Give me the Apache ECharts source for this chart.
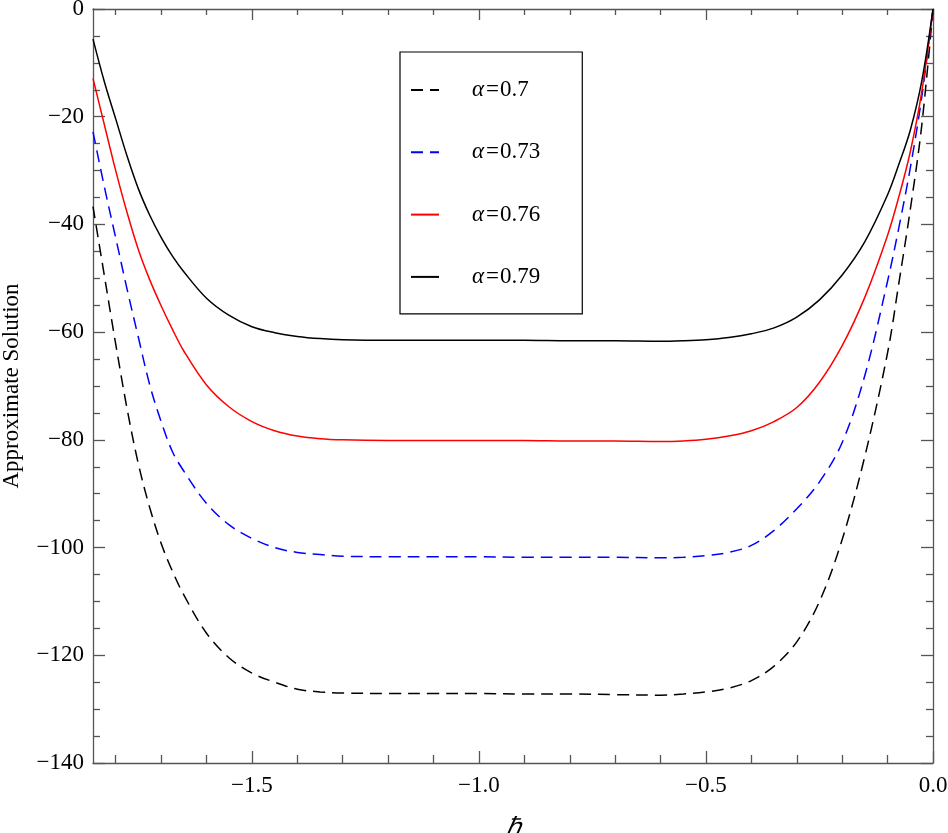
<!DOCTYPE html>
<html><head><meta charset="utf-8">
<script src="https://cdn.jsdelivr.net/npm/echarts@6/dist/echarts.min.js"></script>
<style>html,body{margin:0;padding:0;background:#fff}#c{width:948px;height:833px}</style>
</head><body><div id="c"></div>
<script>
const hbar = [-1.85,-1.825,-1.8,-1.775,-1.75,-1.725,-1.7,-1.675,-1.65,-1.6,-1.55,-1.5,-1.45,-1.4,-1.35,-1.3,-1.2,-1.1,-1.0,-0.9,-0.8,-0.7,-0.6,-0.55,-0.5,-0.45,-0.4,-0.35,-0.3,-0.25,-0.2,-0.15,-0.1,-0.075,-0.05,-0.025,0];
const alpha070 = [-36.7,-49.5,-62.2,-74.2,-84.5,-92.6,-99.2,-104.4,-108.8,-115.9,-120.5,-123.3,-125.0,-126.3,-126.8,-127.0,-127.1,-127.1,-127.1,-127.2,-127.2,-127.3,-127.4,-127.2,-126.8,-126.1,-124.7,-122.0,-117.5,-110.0,-98.5,-83.0,-63.8,-50.8,-37.2,-21.8,0];
const alpha073 = [-22.8,-33.0,-42.5,-52.0,-61.0,-69.8,-76.6,-82.2,-85.8,-91.8,-95.8,-98.3,-100.0,-100.9,-101.3,-101.6,-101.7,-101.7,-101.7,-101.8,-101.8,-101.8,-101.9,-101.8,-101.5,-100.9,-99.6,-96.8,-92.8,-87.8,-80.5,-68.0,-50.5,-40.5,-29.5,-16.5,0];
const alpha076 = [-12.9,-21.5,-30.0,-37.8,-44.7,-50.3,-55.1,-59.5,-63.5,-69.8,-73.9,-76.6,-78.3,-79.3,-79.8,-80.0,-80.1,-80.1,-80.1,-80.1,-80.2,-80.2,-80.3,-80.2,-79.9,-79.3,-78.3,-76.6,-74.0,-69.3,-62.5,-53.5,-42.0,-34.8,-26.5,-15.5,0];
const alpha079 = [-5.6,-13.5,-20.4,-27.3,-33.4,-38.3,-42.4,-45.9,-48.8,-53.7,-56.9,-59.0,-60.1,-60.8,-61.2,-61.4,-61.5,-61.5,-61.5,-61.5,-61.6,-61.6,-61.7,-61.6,-61.4,-61.0,-60.3,-59.2,-57.2,-54.0,-49.4,-43.2,-34.5,-28.8,-22.5,-13.5,0];
const alphaLabels = ['0.7','0.73','0.76','0.79'];
const seriesNames = alphaLabels.map(a => 'α=' + a);
const xMajorTicks = [-1.5,-1.0,-0.5,0.0];
const xMinorTicks = [-1.8,-1.7,-1.6,-1.4,-1.3,-1.2,-1.1,-0.9,-0.8,-0.7,-0.6,-0.4,-0.3,-0.2,-0.1];

const FONT = "'Liberation Serif','Times New Roman',serif";
const AX = '#555';
const minus = s => String(s).replace('-', '\u2212');

function xAx(pos, ticks, len, labels, line) {
  return {
    type: 'value', min: -1.85, max: 0, position: pos,
    axisLine: {show: line, onZero: false, lineStyle: {color: AX, width: 1.3}},
    axisTick: {show: true, inside: true, length: len, customValues: ticks, lineStyle: {color: AX, width: 1.3}},
    axisLabel: labels ? {show: true, customValues: xMajorTicks, formatter: v => minus(v.toFixed(1)), fontFamily: FONT, fontSize: 23, color: '#000', margin: 11} : {show: false},
    splitLine: {show: false}
  };
}
function yAx(pos, labels) {
  return {
    type: 'value', min: -140, max: 0, interval: 20, position: pos,
    axisLine: {show: true, onZero: false, lineStyle: {color: AX, width: 1.3}},
    axisTick: {show: true, inside: true, length: 12, lineStyle: {color: AX, width: 1.3}},
    minorTick: {show: true, splitNumber: 4, length: 7, lineStyle: {color: AX, width: 1.3}},
    axisLabel: labels ? {show: true, formatter: v => minus(v), fontFamily: FONT, fontSize: 23, color: '#000', margin: 9} : {show: false},
    splitLine: {show: false}, minorSplitLine: {show: false}
  };
}

const xa0 = xAx('bottom', xMajorTicks, 12, true, true);
xa0.name = 'ℏ'; xa0.nameLocation = 'middle'; xa0.nameGap = 53;
xa0.nameTextStyle = {fontFamily: FONT, fontSize: 25, fontStyle: 'italic', color: '#000'};
const ya0 = yAx('left', true);
ya0.name = 'Approximate Solution'; ya0.nameLocation = 'middle'; ya0.nameGap = 70;
ya0.nameTextStyle = {fontFamily: FONT, fontSize: 23, color: '#000'};

const styles = [
  {color: '#000000', type: [12, 7]},
  {color: '#0000ff', type: [12, 7]},
  {color: '#ff0000', type: 'solid'},
  {color: '#000000', type: 'solid'}
];
const values = [alpha070, alpha073, alpha076, alpha079];

const chart = echarts.init(document.getElementById('c'), null, {renderer: 'canvas'});
chart.setOption({
  animation: false,
  backgroundColor: '#fff',
  grid: {left: 93, right: 15, top: 9, bottom: 70, containLabel: false, outerBoundsMode: 'none'},
  xAxis: [xa0, xAx('bottom', xMinorTicks, 8, false, false), xAx('top', xMajorTicks, 11, false, true), xAx('top', xMinorTicks, 6, false, false)],
  yAxis: [ya0, yAx('right', false)],
  legend: {
    orient: 'vertical', left: 400, top: 52,
    padding: [26, 42, 25, 10],
    itemGap: 38.3, itemWidth: 28, itemHeight: 24,
    itemStyle: {opacity: 0, borderWidth: 0},
    borderColor: '#000', borderWidth: 1.2, borderRadius: 0,
    data: seriesNames,
    formatter: n => '{a|α}{e|=}{b|' + n.slice(2) + '}',
    textStyle: {
      fontFamily: FONT, fontSize: 23, lineHeight: 24, color: '#000',
      rich: {
        a: {fontFamily: FONT, fontSize: 23, lineHeight: 24, fontStyle: 'italic', color: '#000', padding: [0, 1, 0, 28]},
        e: {fontFamily: FONT, fontSize: 23, lineHeight: 24, color: '#000', padding: [0, 1, 0, 1]},
        b: {fontFamily: FONT, fontSize: 23, lineHeight: 24, color: '#000'}
      }
    }
  },
  series: values.map((arr, i) => ({
    name: seriesNames[i], type: 'line', xAxisIndex: 0, yAxisIndex: 0,
    symbol: 'none', smooth: 0.35,
    lineStyle: {color: styles[i].color, type: styles[i].type, width: 1.5},
    itemStyle: {color: styles[i].color},
    data: hbar.map((x, j) => [x, arr[j]])
  }))
});
</script></body></html>
